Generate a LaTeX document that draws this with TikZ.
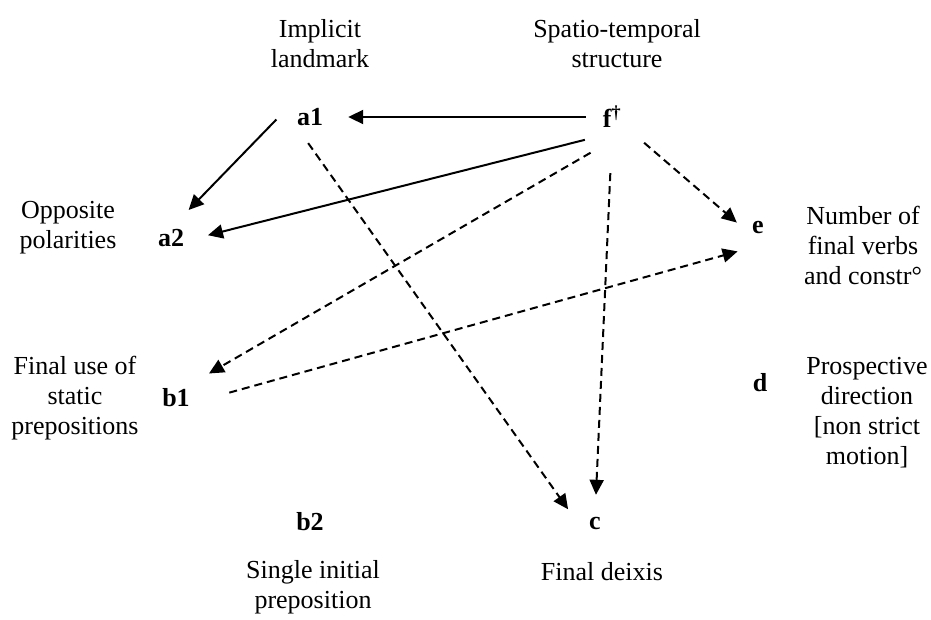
\documentclass[tikz,border=0pt]{standalone}
\usepackage{fontspec}
\setmainfont{Liberation Serif}
\usepackage{tikz}
\usetikzlibrary{arrows.meta,positioning}
\tikzset{
  font={\fontsize{26pt}{30pt}\selectfont}
}
\tikzstyle{line}=[draw, -{Triangle[length=15pt,width=14pt]}, line width=2pt]
\tikzstyle{dline}=[line, dash pattern=on 8pt off 5pt]
\tikzstyle{block}=[circle, minimum size=60pt, inner sep=0pt, font={\fontsize{26pt}{30pt}\selectfont\bfseries}]
\tikzstyle{lab}=[align=center]

\begin{document}
\begin{tikzpicture}[x=1pt, y=-1pt, on grid]
\useasboundingbox (0,0) rectangle (931,619);

\node[block] (a1) at (310,117) {a1};
\node[block] (f) at (612,117) {f\textsuperscript{\textdagger}};
\node[block] (a2) at (171,238) {a2};
\node[block] (e) at (758,228) {e};
\node[block] (b1) at (176,398) {b1};
\node[block] (d) at (760,383) {d};
\node[block] (b2) at (310,522) {b2};
\node[block] (c) at (595,523) {c};

\node[lab, above right=73pt and 10pt of a1] (implicit) {Implicit\\landmark};
\node[lab, above right=73pt and 5pt of f] (spatio) {Spatio-temporal\\structure};
\node[lab, above left=10pt and 103pt of a2] (opposite) {Opposite\\polarities};
\node[lab, below right=17pt and 105pt of e] (number) {Number of\\final verbs\\and constr°};
\node[lab, left=101pt of b1] (finaluse) {Final use of\\static\\prepositions};
\node[lab, below right=30pt and 107pt of d] (prospective) {Prospective\\direction\\{[non strict}\\motion]};
\node[lab, below right=65pt and 3pt of b2] (single) {Single initial\\preposition};
\node[lab, below right=49pt and 7pt of c] (deixis) {Final deixis};

\draw[line, shorten <=-4pt, shorten >=8pt] (f.180) -- (a1.0);
\draw[line, shorten <=5pt, shorten >=3pt] (a1.178) -- (a2.59);
\draw[line, shorten <=6pt, shorten >=7pt] (f.225) -- (a2.2);
\draw[dline, shorten <=-5pt] (a1.-88) -- (c.153);
\draw[dline, shorten <=14pt, shorten >=11pt] (f.252) -- (b1.39);
\draw[dline, shorten <=26pt, shorten >=-2pt] (f.269) -- (c.88);
\draw[dline, shorten <=11pt, shorten >=-9pt] (f.-38) -- (e.158);
\draw[dline, shorten <=24pt, shorten >=1pt] (b1.-2) -- (e.230);

\end{tikzpicture}
\end{document}
